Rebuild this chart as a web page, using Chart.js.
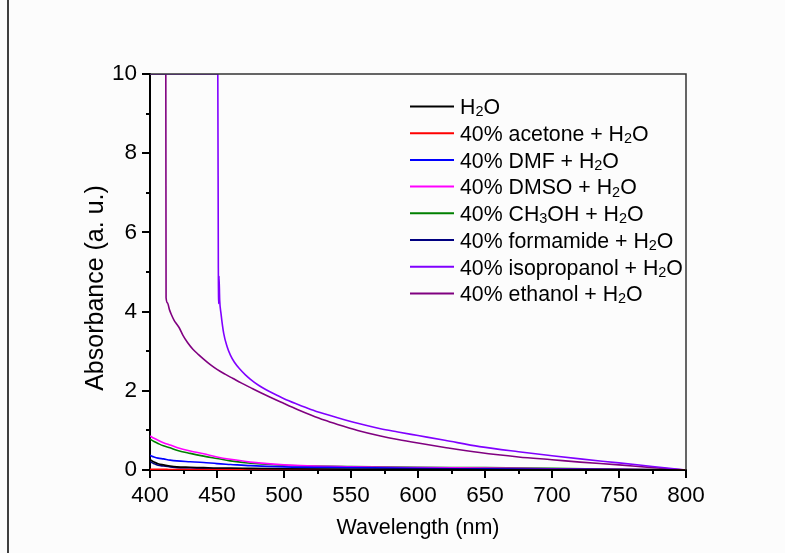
<!DOCTYPE html>
<html>
<head>
<meta charset="utf-8">
<script src="https://cdn.jsdelivr.net/npm/chart.js@4.4.1/dist/chart.umd.min.js"></script>
<style>
  html, body { margin: 0; padding: 0; background: #fcfcfc; }
  canvas { display: block; }
</style>
</head>
<body>
<canvas id="uvChart" width="785" height="553"></canvas>
<script>
// Absorbance spectra, 400-800 nm
const seriesNames = [
  'H₂O',
  '40% acetone + H₂O',
  '40% DMF + H₂O',
  '40% DMSO + H₂O',
  '40% CH₃OH + H₂O',
  '40% formamide + H₂O',
  '40% isopropanol + H₂O',
  '40% ethanol + H₂O'
];
const seriesColors = ['#000000', '#ff0000', '#0000ff', '#ff00ff', '#008000', '#000080', '#8000ff', '#800080'];

// shared wavelength grid for the low-absorbance mixtures
const waveGrid = [400, 403, 406, 410, 415, 420, 430, 440, 450, 460, 475, 500, 550, 600, 650, 700, 750, 800];
const absWater     = [0.26, 0.20, 0.16, 0.13, 0.10, 0.08, 0.07, 0.06, 0.05, 0.05, 0.04, 0.03, 0.02, 0.02, 0.01, 0.01, 0.01, 0];
const absAcetone   = [0.02, 0.02, 0.02, 0.02, 0.01, 0.01, 0.01, 0.01, 0.01, 0.01, 0, 0, 0, 0, 0, 0, 0, 0];
const absDMF       = [0.37, 0.33, 0.30, 0.28, 0.25, 0.23, 0.21, 0.19, 0.16, 0.14, 0.11, 0.08, 0.06, 0.04, 0.03, 0.02, 0.01, 0];
const absDMSO      = [0.86, 0.80, 0.75, 0.69, 0.63, 0.57, 0.48, 0.41, 0.33, 0.27, 0.20, 0.13, 0.08, 0.06, 0.05, 0.03, 0.02, 0];
const absMethanol  = [0.78, 0.72, 0.67, 0.61, 0.56, 0.50, 0.42, 0.35, 0.29, 0.23, 0.17, 0.12, 0.09, 0.07, 0.06, 0.04, 0.02, 0];
const absFormamide = [0.21, 0.16, 0.12, 0.10, 0.08, 0.06, 0.05, 0.04, 0.03, 0.03, 0.03, 0.02, 0.02, 0.01, 0.01, 0.01, 0, 0];

// isopropanol and ethanol saturate the detector (clipped at 10)
const waveIso = [400, 450.6, 451, 451.3, 451.5, 452, 453, 455, 457.5, 460, 463, 467, 471, 475, 481, 487, 494, 500, 510, 520, 530, 540, 555, 572, 585, 600, 620, 646, 675, 700, 721, 750, 775, 800];
const absIso  = [10, 10, 5.1, 4.2, 4.9, 4.3, 3.95, 3.45, 3.12, 2.9, 2.72, 2.55, 2.41, 2.29, 2.14, 2.02, 1.9, 1.8, 1.66, 1.53, 1.42, 1.32, 1.18, 1.04, 0.96, 0.87, 0.75, 0.59, 0.46, 0.36, 0.28, 0.18, 0.09, 0];
const waveEth = [400, 411.8, 412, 413, 414.5, 416, 418, 420, 422, 424.6, 428, 432, 436, 440, 445, 450, 456, 462, 468, 475, 487, 500, 510, 520, 530, 540, 555, 572, 585, 600, 620, 646, 675, 700, 721, 750, 775, 800];
const absEth  = [10, 10, 4.35, 4.22, 4.05, 3.92, 3.78, 3.68, 3.58, 3.4, 3.22, 3.05, 2.92, 2.8, 2.66, 2.54, 2.42, 2.31, 2.2, 2.08, 1.88, 1.68, 1.53, 1.39, 1.26, 1.15, 1.0, 0.86, 0.77, 0.68, 0.57, 0.44, 0.33, 0.26, 0.2, 0.13, 0.06, 0];

const xTicks = [400, 450, 500, 550, 600, 650, 700, 750, 800];
const yTicks = [0, 2, 4, 6, 8, 10];
const yTitle = 'Absorbance (a. u.)';

const seriesX = [waveGrid, waveGrid, waveGrid, waveGrid, waveGrid, waveGrid, waveIso, waveEth];
const seriesY = [absWater, absAcetone, absDMF, absDMSO, absMethanol, absFormamide, absIso, absEth];

const FONT = "'Liberation Sans', Arial, sans-serif";

const datasets = seriesNames.map((name, i) => ({
  label: name,
  data: seriesX[i].map((x, k) => ({ x: x, y: seriesY[i][k] })),
  borderColor: seriesColors[i],
  borderWidth: 1.6,
  pointRadius: 0,
  cubicInterpolationMode: 'monotone',
  fill: false
}));

// draws text where ₀-₉ become lowered, smaller digits
function drawRichText(ctx, text, x, y, size) {
  let cx = x;
  for (const ch of text) {
    const code = ch.charCodeAt(0);
    if (code >= 0x2080 && code <= 0x2089) {
      ctx.font = (size * 0.68) + 'px ' + FONT;
      const d = String(code - 0x2080);
      ctx.fillText(d, cx, y + size * 0.1);
      cx += ctx.measureText(d).width;
    } else {
      ctx.font = size + 'px ' + FONT;
      ctx.fillText(ch, cx, y);
      cx += ctx.measureText(ch).width;
    }
  }
}

const framePlugin = {
  id: 'frame',
  afterDraw(chart) {
    const ctx = chart.ctx;
    const area = chart.chartArea;
    const xs = chart.scales.x, ys = chart.scales.y;
    ctx.save();

    // outer margin line
    ctx.strokeStyle = '#000';
    ctx.lineWidth = 1.5;
    ctx.beginPath();
    ctx.moveTo(8, 0);
    ctx.lineTo(8, 553);
    ctx.stroke();

    // top and right frame
    ctx.strokeStyle = '#333';
    ctx.lineWidth = 1.5;
    ctx.beginPath();
    ctx.moveTo(area.left, area.top);
    ctx.lineTo(area.right, area.top);
    ctx.lineTo(area.right, area.bottom);
    ctx.stroke();

    // outward ticks, major and minor
    ctx.strokeStyle = '#000';
    ctx.lineWidth = 2;
    ctx.beginPath();
    for (let v = 400; v <= 800; v += 25) {
      const px = Math.round(xs.getPixelForValue(v));
      const len = v % 50 === 0 ? 8 : 4;
      ctx.moveTo(px, area.bottom);
      ctx.lineTo(px, area.bottom + len);
    }
    for (let v = 0; v <= 10; v += 1) {
      const py = Math.round(ys.getPixelForValue(v));
      const len = v % 2 === 0 ? 8 : 4;
      ctx.moveTo(area.left, py);
      ctx.lineTo(area.left - len, py);
    }
    ctx.stroke();

    // y axis title, sits a little below the axis middle
    ctx.save();
    ctx.translate(96, 288);
    ctx.rotate(-Math.PI / 2);
    ctx.font = '25px ' + FONT;
    ctx.fillStyle = '#000';
    ctx.textAlign = 'center';
    ctx.textBaseline = 'middle';
    ctx.fillText(yTitle, 0, 0);
    ctx.restore();

    // legend
    ctx.textBaseline = 'alphabetic';
    ctx.fillStyle = '#000';
    chart.data.datasets.forEach((ds, i) => {
      const y = 106.5 + i * 26.7;
      ctx.strokeStyle = ds.borderColor;
      ctx.lineWidth = 2;
      ctx.beginPath();
      ctx.moveTo(410, y);
      ctx.lineTo(454, y);
      ctx.stroke();
      drawRichText(ctx, ds.label, 460, y + 7.8, 21.3);
    });
    ctx.restore();
  }
};

new Chart(document.getElementById('uvChart'), {
  type: 'line',
  data: { datasets: datasets },
  options: {
    responsive: false,
    devicePixelRatio: 1,
    animation: false,
    layout: { padding: { left: 77, right: 99, top: 74, bottom: 8 } },
    plugins: {
      legend: { display: false },
      tooltip: { enabled: false }
    },
    scales: {
      x: {
        type: 'linear',
        min: 400,
        max: 800,
        afterBuildTicks: (scale) => { scale.ticks = xTicks.map(v => ({ value: v })); },
        afterFit: (scale) => { scale.height = 75; },
        ticks: { color: '#000', font: { family: FONT, size: 22.5 }, padding: 12, maxRotation: 0 },
        grid: { display: false, drawTicks: false },
        border: { display: true, color: '#000', width: 2 },
        title: { display: true, text: 'Wavelength (nm)', color: '#000', font: { family: FONT, size: 21.5 }, padding: { top: 0, bottom: 4 } }
      },
      y: {
        min: 0,
        max: 10,
        afterBuildTicks: (scale) => { scale.ticks = yTicks.map(v => ({ value: v })); },
        afterFit: (scale) => { scale.width = 73; },
        ticks: { color: '#000', font: { family: FONT, size: 22.5 }, padding: 13 },
        grid: { display: false, drawTicks: false },
        border: { display: true, color: '#000', width: 2 }
      }
    }
  },
  plugins: [framePlugin]
});
</script>
</body>
</html>
